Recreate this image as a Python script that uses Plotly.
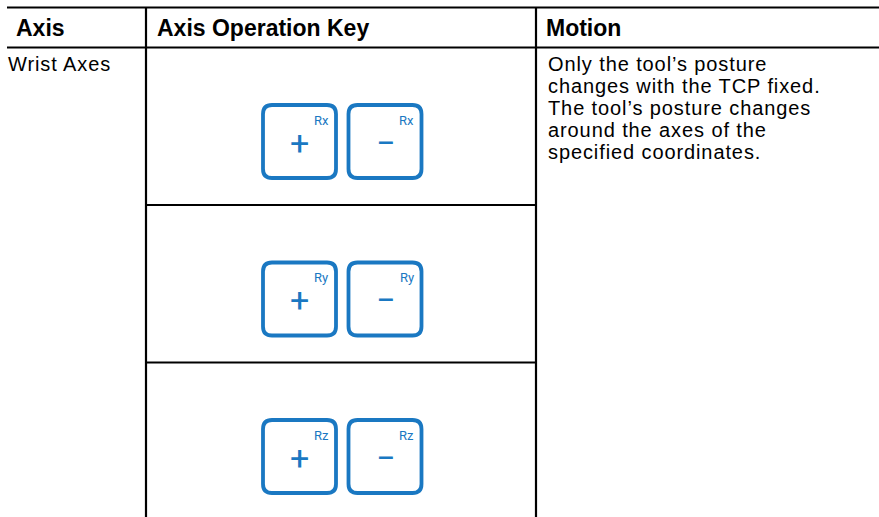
import plotly.graph_objects as go

W, H = 879, 517

# ---- table content ----
headers = ["Axis", "Axis Operation Key", "Motion"]
axis_name = "Wrist Axes"
key_labels = ["Rx", "Ry", "Rz"]
key_signs = ["+", "\u2212"]
motion_lines = [
    "Only the tool\u2019s posture",
    "changes with the TCP fixed.",
    "The tool\u2019s posture changes",
    "around the axes of the",
    "specified coordinates.",
]

# ---- layout constants (pixels) ----
x_left, x_c1, x_c2, x_right = 7, 146, 536, W + 10
y_top, y_head = 7.5, 47.5
row_h = 157.5
row_tops = [y_head + i * row_h for i in range(3)]
blue = "#1a78c2"
font_txt = "Liberation Sans, Arial, sans-serif"
fs_body = 20
fs_head = 23
lead = 22
body_style = "letter-spacing:0.9px"

fig = go.Figure()
fig.add_trace(go.Scatter(x=[0, W], y=[0, H], mode="markers",
                         marker=dict(opacity=0), hoverinfo="skip", showlegend=False))

shapes = []
def line(x0, y0, x1, y1, w=2.2, color="black"):
    shapes.append(dict(type="line", x0=x0, y0=y0, x1=x1, y1=y1, xref="x", yref="y",
                       line=dict(color=color, width=w)))

line(x_left, y_top, x_right, y_top)
line(x_left, y_head, x_right, y_head)
line(x_c1, y_top, x_c1, H + 20)
line(x_c2, y_top, x_c2, H + 20)
for rt in row_tops[1:]:
    line(x_c1, rt, x_c2, rt)

def rrect(x0, y0, x1, y1, r):
    return (f"M {x0+r},{y0} L {x1-r},{y0} Q {x1},{y0} {x1},{y0+r} "
            f"L {x1},{y1-r} Q {x1},{y1} {x1-r},{y1} L {x0+r},{y1} "
            f"Q {x0},{y1} {x0},{y1-r} L {x0},{y0+r} Q {x0},{y0} {x0+r},{y0} Z")

annotations = []
def text(x, y, s, size, bold=False, color="black", xanchor="left", family=font_txt):
    annotations.append(dict(x=x, y=y, xref="x", yref="y", text=(f"<b>{s}</b>" if bold else s),
                            showarrow=False, xanchor=xanchor, yanchor="middle", borderpad=0,
                            font=dict(family=family, size=size, color=color)))

def spaced(s):
    return f'<span style="{body_style}">{s}</span>'

# headers
hx = [15, 156, 545]
for x, h in zip(hx, headers):
    text(x, 27.5, h, fs_head, bold=True)

text(7, 64, spaced(axis_name), fs_body)
for i, ln in enumerate(motion_lines):
    text(547, 64 + lead * i, spaced(ln), fs_body)

# keys
box_w, box_h = 73, 73
key_x0 = [263, 348.5]
for r, lab in enumerate(key_labels):
    top = row_tops[r] + 57.5
    for k, sign in enumerate(key_signs):
        x0 = key_x0[k]
        shapes.append(dict(type="path", path=rrect(x0, top, x0 + box_w, top + box_h, 9),
                           xref="x", yref="y", line=dict(color=blue, width=3.8)))
        text(x0 + 58, top + 15, lab, 13, color=blue, xanchor="center",
             family="Roboto, Noto Sans, sans-serif")
        text(x0 + box_w / 2, top + box_h / 2 + 1, sign, 34, color=blue,
             xanchor="center", family="Roboto, Noto Sans, sans-serif")

fig.update_layout(
    width=W, height=H, autosize=False,
    margin=dict(l=0, r=0, t=0, b=0),
    paper_bgcolor="white", plot_bgcolor="white",
    xaxis=dict(range=[0, W], visible=False, fixedrange=True),
    yaxis=dict(range=[H, 0], visible=False, fixedrange=True),
    shapes=shapes, annotations=annotations, showlegend=False,
)
fig.write_html("out.html", config={"displayModeBar": False},
               post_script="document.body.style.margin='0px';")
